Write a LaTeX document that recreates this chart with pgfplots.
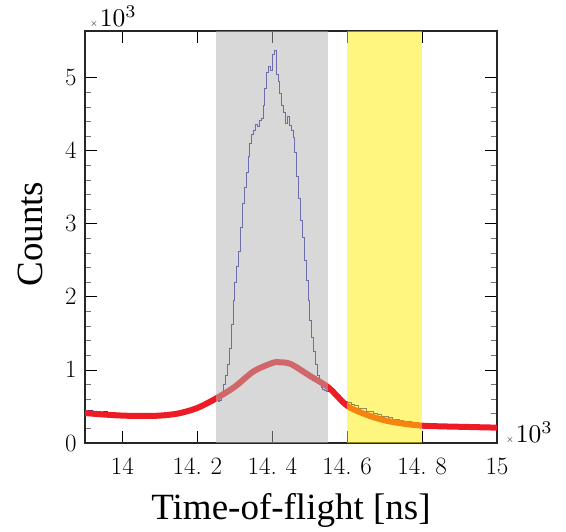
\documentclass[border=0pt]{standalone}
\usepackage{pgfplots}
\pgfplotsset{compat=1.18}
\usepackage{fontspec}
\newfontfamily\labfont{Liberation Serif}
\definecolor{histblue}{RGB}{40,40,160}
\definecolor{fitred}{RGB}{237,28,36}
\definecolor{bandgray}{RGB}{178,178,178}
\definecolor{bandyellow}{RGB}{255,237,0}
\newcommand{\scalelab}{$\times$\hspace{2pt}\scalebox{2.55}{$10^{3}$}}

\begin{document}
\begin{tikzpicture}
\begin{axis}[
  scale only axis, width=412pt, height=412pt,
  xmin=13.9, xmax=15.0, ymin=0, ymax=5.64,
  clip=false,
  scaled ticks=false,
  xtick={14,14.2,14.4,14.6,14.8,15},
  xticklabels={14,14.\hspace{0.35em}2,14.\hspace{0.35em}4,14.\hspace{0.35em}6,14.\hspace{0.35em}8,15},
  ytick={0,1,2,3,4,5},
  minor y tick num=4,
  minor x tick num=0,
  tick align=inside,
  major tick length=12pt, minor tick length=6pt,
  major tick style={black, line width=0.8pt},
  minor tick style={black!55, line width=0.6pt},
  axis line style={draw=black!85, line width=1.2pt},
  tick label style={font=\fontsize{25}{25}\selectfont},
  xticklabel style={yshift=-11pt},
  yticklabel style={xshift=-5pt},
  xlabel={Time-of-flight [ns]},
  xlabel style={font=\labfont\fontsize{37}{37}\selectfont,
    at={(axis description cs:0.5,0)}, anchor=base, yshift=-77pt},
]
% histogram
\addplot[const plot, histblue, line width=0.7pt] coordinates {
(13.90,0.43) (13.91,0.45) (13.92,0.42) (13.93,0.44) (13.94,0.41) (13.95,0.43)
(13.96,0.40) (13.97,0.42) (13.98,0.39) (13.99,0.41) (14.00,0.38) (14.01,0.40)
(14.02,0.37) (14.03,0.39) (14.04,0.41) (14.05,0.37) (14.06,0.40) (14.07,0.38)
(14.08,0.40) (14.09,0.37) (14.10,0.40) (14.11,0.39) (14.12,0.41) (14.13,0.40)
(14.14,0.42) (14.15,0.41) (14.16,0.43) (14.17,0.44) (14.18,0.46) (14.19,0.47)
(14.20,0.50) (14.21,0.51) (14.22,0.54) (14.23,0.56) (14.24,0.58) (14.25,0.60)
(14.255,0.57) (14.26,0.59) (14.265,0.68) (14.27,0.80) (14.275,0.92) (14.28,1.08)
(14.285,1.30) (14.29,1.62) (14.295,1.95) (14.30,2.20) (14.305,2.42) (14.31,2.62)
(14.315,2.95) (14.32,3.28) (14.325,3.50) (14.33,3.70) (14.335,3.92) (14.34,4.10)
(14.345,4.22) (14.35,4.28) (14.355,4.36) (14.36,4.33) (14.365,4.42) (14.37,4.45)
(14.375,4.62) (14.38,4.85) (14.385,5.08) (14.39,5.15) (14.395,5.10) (14.40,5.32)
(14.405,5.37) (14.41,5.05) (14.415,4.95) (14.42,4.78) (14.425,4.62) (14.43,4.52)
(14.435,4.38) (14.44,4.47) (14.445,4.35) (14.45,4.28) (14.455,4.18) (14.46,3.98)
(14.465,3.65) (14.47,3.35) (14.475,3.05) (14.48,2.82) (14.485,2.50) (14.49,2.22)
(14.495,1.95) (14.50,1.68) (14.505,1.45) (14.51,1.25) (14.515,1.08) (14.52,0.92)
(14.525,0.80) (14.53,0.76) (14.535,0.74) (14.54,0.72) (14.545,0.71) (14.55,0.72)
(14.56,0.68) (14.57,0.65) (14.58,0.60) (14.59,0.57) (14.60,0.56) (14.61,0.53)
(14.62,0.52) (14.63,0.48) (14.64,0.47) (14.65,0.44) (14.66,0.43) (14.67,0.40)
(14.68,0.39) (14.69,0.37) (14.70,0.36) (14.71,0.35) (14.72,0.33) (14.73,0.32)
(14.74,0.31) (14.75,0.30) (14.76,0.29) (14.77,0.28) (14.78,0.28) (14.79,0.27)
(14.80,0.26) (14.81,0.25) (14.82,0.24) (14.83,0.25) (14.84,0.23) (14.85,0.24)
(14.86,0.23) (14.87,0.24) (14.88,0.22) (14.89,0.23) (14.90,0.24) (14.91,0.22)
(14.92,0.23) (14.93,0.21) (14.94,0.23) (14.95,0.22) (14.96,0.21) (14.97,0.22)
(14.98,0.21) (14.99,0.22) (15.00,0.21)
};
% fit
\addplot[smooth, fitred, line width=6pt] coordinates {
(13.90,0.41) (13.95,0.39) (14.00,0.375) (14.05,0.37) (14.10,0.375) (14.15,0.405)
(14.20,0.48) (14.25,0.61) (14.30,0.77) (14.35,0.98) (14.40,1.095) (14.42,1.105)
(14.45,1.08) (14.50,0.92) (14.55,0.76) (14.60,0.51) (14.65,0.39) (14.70,0.31)
(14.75,0.265) (14.80,0.237) (14.85,0.228) (14.90,0.222) (14.95,0.216) (15.00,0.21)
};
% windows
\fill[bandgray, fill opacity=0.5] (axis cs:14.25,0) rectangle (axis cs:14.55,5.64);
\fill[bandyellow, fill opacity=0.5] (axis cs:14.6,0) rectangle (axis cs:14.8,5.64);
\coordinate (TL) at (axis description cs:0,1);
\coordinate (BR) at (axis description cs:1,0);
\coordinate (PSW) at ([xshift=-85pt,yshift=-87pt]axis description cs:0,0);
\coordinate (PNE) at ([xshift=69pt,yshift=31pt]axis description cs:1,1);
% y label
\node[rotate=90, anchor=center, inner sep=0pt, font=\labfont\fontsize{37}{37}\selectfont]
  at ([xshift=-55pt]axis description cs:0,0.507) {Counts};
\end{axis}
% scale labels
\node[anchor=base west, inner sep=0pt] at ([xshift=5pt,yshift=4pt]TL) {\scalelab};
\node[anchor=base west, inner sep=0pt] at ([xshift=9pt]BR) {\scalelab};
% page extent
\path (PSW) rectangle (PNE);
\end{tikzpicture}
\end{document}
